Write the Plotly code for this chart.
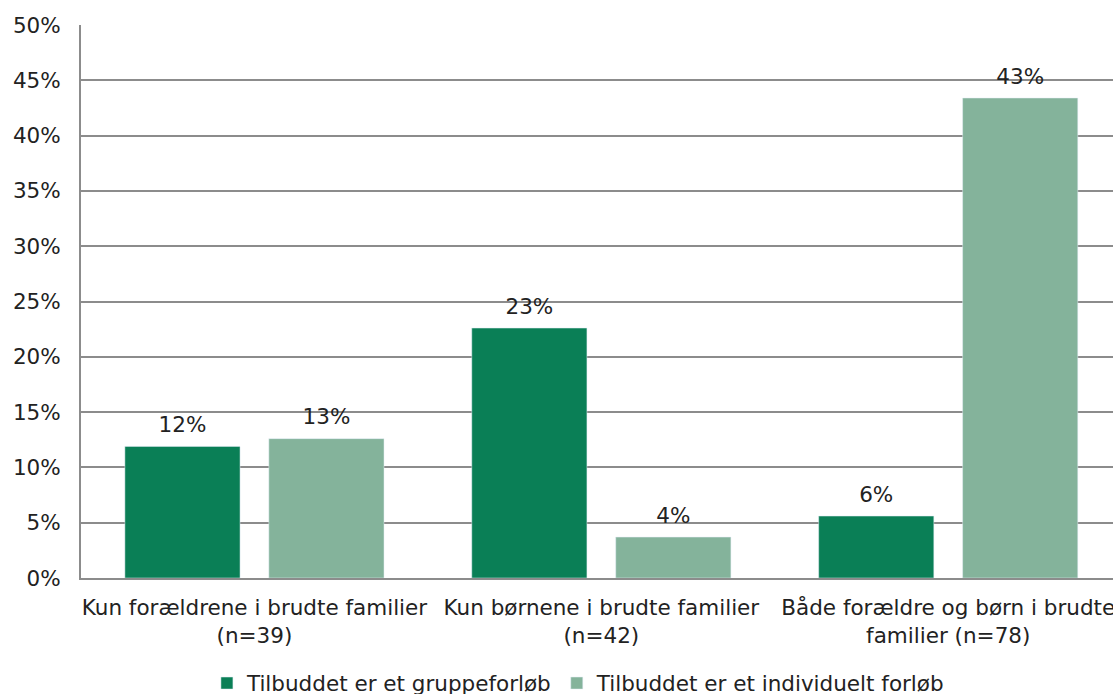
import plotly.graph_objects as go

categories = ["Kun forældrene i brudte familier<br>(n=39)",
              "Kun børnene i brudte familier<br>(n=42)",
              "Både forældre og børn i brudte<br>familier (n=78)"]
series_names = ["Tilbuddet er et gruppeforløb", "Tilbuddet er et individuelt forløb"]
gruppe = [11.9, 22.6, 5.6]
individuelt = [12.6, 3.7, 43.4]
y_ticks = [0, 5, 10, 15, 20, 25, 30, 35, 40, 45, 50]

colors = ["#0A7F56", "#84B39B"]
font = "DejaVu Sans, Verdana, sans-serif"
FS = 21.5
GAP = 0.17

fig = go.Figure()
for i, (name, vals, col) in enumerate(zip(series_names, [gruppe, individuelt], colors)):
    fig.add_trace(go.Bar(
        x=categories, y=vals, name=name, marker_color=col,
        offsetgroup=str(i), hoverinfo="skip",
    ))
    fig.add_trace(go.Scatter(
        x=categories, y=vals, mode="markers+text", offsetgroup=str(i),
        marker=dict(size=13, opacity=0), showlegend=False, hoverinfo="skip",
        text=[f"{round(v):d}%" for v in vals], textposition="top center",
        textfont=dict(size=FS, color="#222222", family=font),
        cliponaxis=False,
    ))

fig.update_layout(
    width=1113, height=694,
    margin=dict(l=81, r=0, t=25, b=116, autoexpand=False),
    paper_bgcolor="white", plot_bgcolor="white",
    barmode="group", bargap=GAP, bargroupgap=0.2,
    scattermode="group", scattergap=GAP,
    font=dict(family=font, size=FS, color="#222222"),
    showlegend=True,
    legend=dict(orientation="h", x=0.482, xanchor="center", y=-0.19, yanchor="middle",
                font=dict(size=FS, family=font), itemwidth=30),
    xaxis=dict(range=[-0.5, 2.475], showline=True, linecolor="#8C8C8C", linewidth=2,
               ticks="", tickfont=dict(size=FS), ticklabelstandoff=9, automargin=False),
    yaxis=dict(range=[0, 50], tickvals=y_ticks, ticktext=[f"{v}%" for v in y_ticks],
               showgrid=True, gridcolor="#8C8C8C", gridwidth=1.5,
               showline=True, linecolor="#8C8C8C", linewidth=2,
               zeroline=False, ticks="", tickfont=dict(size=FS), ticklabelstandoff=14,
               automargin=False),
)

fig.write_html("out.html", config={"displayModeBar": False},
               post_script="document.body.style.margin='0';document.body.style.padding='0';")
